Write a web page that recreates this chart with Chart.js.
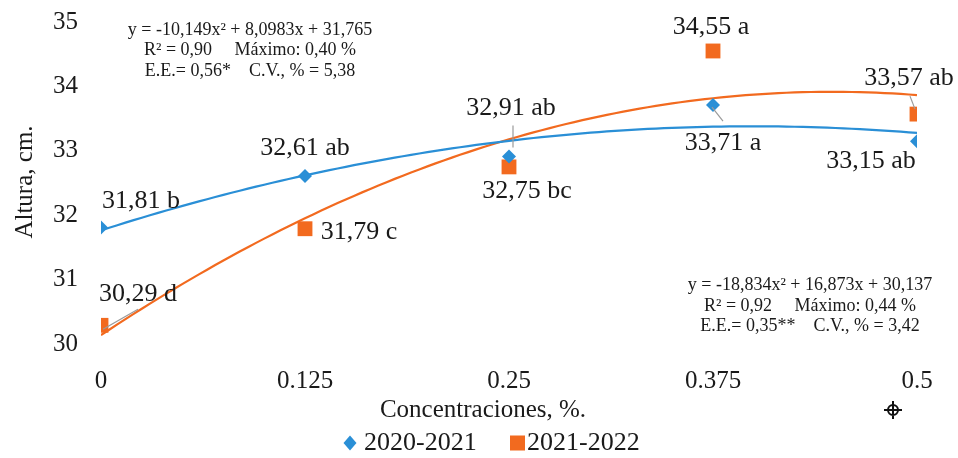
<!DOCTYPE html>
<html>
<head>
<meta charset="utf-8">
<title>Altura vs concentraciones</title>
<script src="https://cdn.jsdelivr.net/npm/chart.js@4/dist/chart.umd.min.js"></script>
<style>
  html, body { margin: 0; padding: 0; background: #ffffff; }
  canvas { display: block; }
</style>
</head>
<body>
<canvas id="chart" width="958" height="458"></canvas>
<script>
// ---- data ----
const concentrations = [0, 0.125, 0.25, 0.375, 0.5];
const xTickLabels = ['0', '0.125', '0.25', '0.375', '0.5'];
const yTickValues = [30, 31, 32, 33, 34, 35];

const seasonA = '2020-2021';
const seasonB = '2021-2022';

const heightA = [31.81, 32.61, 32.91, 33.71, 33.15];
const lettersA = ['b', 'ab', 'ab', 'a', 'ab'];
const heightB = [30.29, 31.79, 32.75, 34.55, 33.57];
const lettersB = ['d', 'c', 'bc', 'a', 'ab'];

// quadratic fit coefficients: [a, b, c] for y = a x² + b x + c
const fitA = [-10.149, 8.0983, 31.765];
const fitB = [-18.834, 16.873, 30.137];

const equationA = ['y = -10,149x² + 8,0983x + 31,765', 'R² = 0,90     Máximo: 0,40 %', 'E.E.= 0,56*    C.V., % = 5,38'];
const equationB = ['y = -18,834x² + 16,873x + 30,137', 'R² = 0,92     Máximo: 0,44 %', 'E.E.= 0,35**    C.V., % = 3,42'];

const xTitle = 'Concentraciones, %.';
const yTitle = 'Altura, cm.';

// ---- styling ----
const BLUE = '#2a8fd6';
const ORANGE = '#f26a1f';
const TEXT = '#1a1a1a';
const SERIF = '"Liberation Serif", "Times New Roman", serif';

// value label offsets (px from the marker centre) and leader lines
const labelOffsetA = [[40, -26], [0, -28], [2, -48], [10, 38], [-46, 20]];
const labelOffsetB = [[37, -31], [54, 3], [18, 24], [-2, -24], [-8, -36]];
const leaderA = [null, null, [4, -31, 4, -9], [-1, 2, 10, 16], null];
const leaderB = [[2, 4, 37, -16], null, null, null, [-7, -18, -2, -5]];

function fitCurve(coef) {
  const pts = [];
  for (let i = 0; i <= 100; i++) {
    const x = 0.5 * i / 100;
    pts.push({ x: x, y: coef[0] * x * x + coef[1] * x + coef[2] });
  }
  return pts;
}

function toPoints(xs, ys) {
  return xs.map((x, i) => ({ x: x, y: ys[i] }));
}

function fmtValue(v, letter) {
  return v.toFixed(2).replace('.', ',') + ' ' + letter;
}

const annotations = {
  id: 'annotations',
  beforeDraw(chart) {
    const ctx = chart.ctx;
    ctx.save();
    ctx.fillStyle = '#ffffff';
    ctx.fillRect(0, 0, chart.width, chart.height);
    ctx.restore();
  },
  afterDatasetsDraw(chart) {
    const ctx = chart.ctx;
    const xs = chart.scales.x;
    const ys = chart.scales.y;
    ctx.save();

    // leader lines
    ctx.strokeStyle = '#9a9a9a';
    ctx.lineWidth = 1.2;
    const drawLeaders = (vals, leaders) => {
      vals.forEach((v, i) => {
        const l = leaders[i];
        if (!l) return;
        const px = xs.getPixelForValue(concentrations[i]);
        const py = ys.getPixelForValue(v);
        ctx.beginPath();
        ctx.moveTo(px + l[0], py + l[1]);
        ctx.lineTo(px + l[2], py + l[3]);
        ctx.stroke();
      });
    };
    drawLeaders(heightA, leaderA);
    drawLeaders(heightB, leaderB);

    // value labels
    ctx.fillStyle = TEXT;
    ctx.font = '26px ' + SERIF;
    ctx.textAlign = 'center';
    ctx.textBaseline = 'middle';
    const drawLabels = (vals, letters, offs) => {
      vals.forEach((v, i) => {
        const px = xs.getPixelForValue(concentrations[i]);
        const py = ys.getPixelForValue(v);
        ctx.fillText(fmtValue(v, letters[i]), px + offs[i][0], py + offs[i][1]);
      });
    };
    drawLabels(heightA, lettersA, labelOffsetA);
    drawLabels(heightB, lettersB, labelOffsetB);

    // regression equations
    ctx.font = '18px ' + SERIF;
    equationA.forEach((t, i) => ctx.fillText(t, 250, 30 + i * 20.5));
    equationB.forEach((t, i) => ctx.fillText(t, 810, 285 + i * 20.8));

    // axis titles
    ctx.font = '25px ' + SERIF;
    ctx.fillText(xTitle, 483, 410);
    ctx.save();
    ctx.translate(25, 182);
    ctx.rotate(-Math.PI / 2);
    ctx.fillText(yTitle, 0, 0);
    ctx.restore();

    // legend
    const ly = 443;
    ctx.fillStyle = BLUE;
    ctx.beginPath();
    ctx.moveTo(350, ly - 7.5);
    ctx.lineTo(356.5, ly);
    ctx.lineTo(350, ly + 7.5);
    ctx.lineTo(343.5, ly);
    ctx.closePath();
    ctx.fill();
    ctx.fillStyle = ORANGE;
    ctx.fillRect(510, ly - 7.5, 15, 15);
    ctx.fillStyle = TEXT;
    ctx.font = '26px ' + SERIF;
    ctx.textAlign = 'left';
    ctx.fillText(seasonA, 364, ly);
    ctx.fillText(seasonB, 527, ly);

    // move handle glyph
    ctx.strokeStyle = '#111';
    ctx.lineWidth = 2;
    ctx.beginPath();
    ctx.arc(893, 410, 5, 0, Math.PI * 2);
    ctx.moveTo(893, 401); ctx.lineTo(893, 419);
    ctx.moveTo(884, 410); ctx.lineTo(902, 410);
    ctx.stroke();

    ctx.restore();
  }
};

new Chart(document.getElementById('chart'), {
  type: 'scatter',
  data: {
    datasets: [
      {
        label: seasonA,
        data: toPoints(concentrations, heightA),
        backgroundColor: BLUE,
        borderColor: BLUE,
        pointStyle: 'rectRot',
        pointRadius: 7,
        pointBorderWidth: 0,
        showLine: false
      },
      {
        label: seasonB,
        data: toPoints(concentrations, heightB),
        backgroundColor: ORANGE,
        borderColor: ORANGE,
        pointStyle: 'rect',
        pointRadius: 10.5,
        pointBorderWidth: 0,
        showLine: false
      },
      {
        label: 'Polinómica (' + seasonA + ')',
        data: fitCurve(fitA),
        borderColor: BLUE,
        borderWidth: 2.2,
        pointRadius: 0,
        showLine: true,
        fill: false
      },
      {
        label: 'Polinómica (' + seasonB + ')',
        data: fitCurve(fitB),
        borderColor: ORANGE,
        borderWidth: 2.2,
        pointRadius: 0,
        showLine: true,
        fill: false
      }
    ]
  },
  options: {
    responsive: false,
    animation: false,
    devicePixelRatio: 1,
    layout: { padding: { left: 0, right: 41, top: 22, bottom: 0 } },
    plugins: {
      legend: { display: false },
      tooltip: { enabled: false }
    },
    scales: {
      x: {
        type: 'linear',
        min: 0,
        max: 0.5,
        afterBuildTicks(scale) {
          scale.ticks = concentrations.map(v => ({ value: v }));
        },
        afterFit(scale) {
          scale.height = 114;
          scale.paddingLeft = 0;
          scale.paddingRight = 0;
        },
        grid: { display: false, drawTicks: false },
        border: { display: false },
        ticks: {
          padding: 22,
          color: TEXT,
          font: { family: SERIF, size: 25 },
          maxRotation: 0,
          callback: (v, i) => xTickLabels[i]
        }
      },
      y: {
        min: 30,
        max: 35,
        afterBuildTicks(scale) {
          scale.ticks = yTickValues.map(v => ({ value: v }));
        },
        afterFit(scale) {
          scale.width = 101;
          scale.paddingTop = 0;
          scale.paddingBottom = 0;
        },
        grid: { display: false, drawTicks: false },
        border: { display: false },
        ticks: {
          padding: 23,
          color: TEXT,
          font: { family: SERIF, size: 25 },
          callback: v => String(v)
        }
      }
    }
  },
  plugins: [annotations]
});
</script>
</body>
</html>
